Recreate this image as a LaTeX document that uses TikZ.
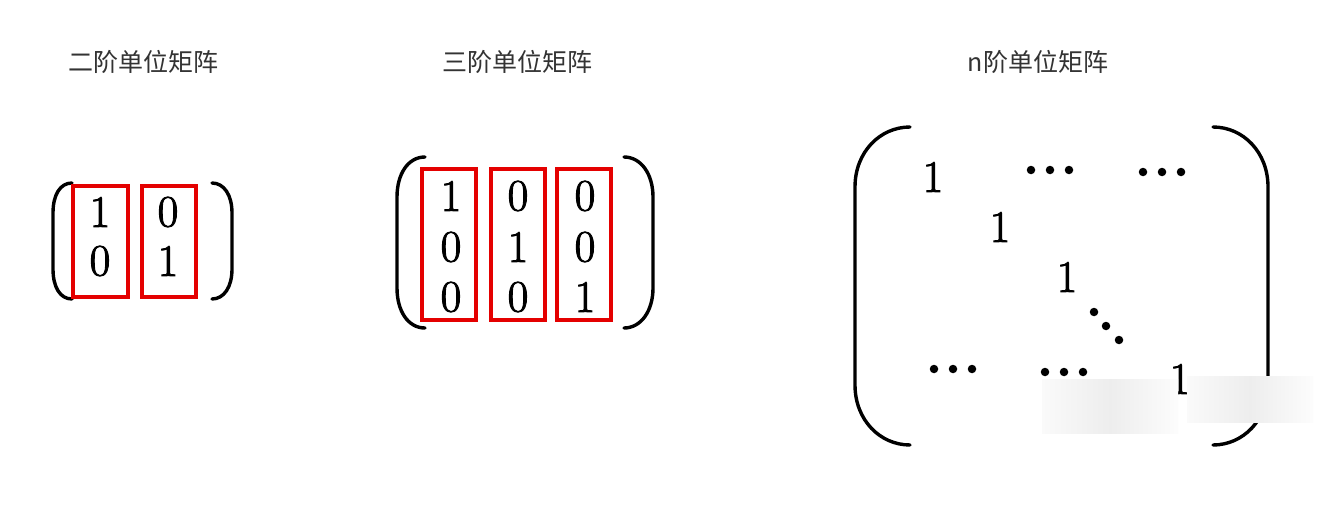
\documentclass[tikz,border=0pt]{standalone}
\usepackage{fontspec}
\newfontfamily\cjk{Noto Sans CJK SC}
\newfontfamily\numfont[FakeBold=2]{Latin Modern Roman}
\begin{document}
\begin{tikzpicture}[x=1pt,y=-1pt]
\useasboundingbox[fill=white] (0,0) rectangle (1340,508);
\tikzset{
 title/.style={font=\cjk\fontsize{25}{29}\selectfont, text=black!80, inner sep=0pt},
 num/.style={font=\numfont\fontsize{45}{50}\selectfont, inner sep=0pt},
 colbox/.style={draw={rgb,255:red,228;green,0;blue,0}, line width=3.4pt, inner sep=0pt},
 paren/.style={line width=3.4pt, line cap=round},
 dot/.style={circle, fill=black, inner sep=0pt, minimum size=8.5pt},
 smudge/.style={draw=none, left color=black!2, right color=black!1, middle color=black!7}
}
% titles
\node[title] (t2) at (143,62) {二阶单位矩阵};
\node[title] (t3) at (517,62) {三阶单位矩阵};
\node[title] (tn) at (1038,62) {n阶单位矩阵};

% ---- 2x2 ----
\draw[paren] (72,183) .. controls (60,183) and (53,195) .. (53,213) -- (53,269) .. controls (53,287) and (60,299) .. (72,299);
\draw[paren] (212,183) .. controls (224,183) and (232,195) .. (232,213) -- (232,269) .. controls (232,287) and (224,299) .. (212,299);
\node[colbox, minimum width=55pt, minimum height=111pt] (b21) at (100.5,241.5) {};
\node[colbox, minimum width=54pt, minimum height=111pt] (b22) at (169,241.5) {};
\node[num] (a11) at (100,212) {1};
\node[num] (a12) at (168,212) {0};
\node[num] (a21) at (100,261) {0};
\node[num] (a22) at (168,261) {1};

% ---- 3x3 ----
\draw[paren] (425,157) .. controls (408,157) and (397,174) .. (397,197) -- (397,288) .. controls (397,311) and (408,328) .. (425,328);
\draw[paren] (624,157) .. controls (641,157) and (653,174) .. (653,197) -- (653,288) .. controls (653,311) and (641,328) .. (624,328);
\node[colbox, minimum width=54pt, minimum height=151pt] (b31) at (449,244.5) {};
\node[colbox, minimum width=54pt, minimum height=151pt] (b32) at (518,244.5) {};
\node[colbox, minimum width=54pt, minimum height=151pt] (b33) at (584,244.5) {};
\node[num] (c11) at (451,196) {1};
\node[num] (c12) at (518,196) {0};
\node[num] (c13) at (585,196) {0};
\node[num] (c21) at (451,247) {0};
\node[num] (c22) at (518,247) {1};
\node[num] (c23) at (585,247) {0};
\node[num] (c31) at (451,297) {0};
\node[num] (c32) at (518,297) {0};
\node[num] (c33) at (585,297) {1};

% ---- n x n ----
\draw[paren] (910,127) .. controls (880,127) and (855,152) .. (855,187) -- (855,385) .. controls (855,420) and (880,445) .. (910,445);
\draw[paren] (1213,127) .. controls (1243,127) and (1268,152) .. (1268,187) -- (1268,385) .. controls (1268,420) and (1243,445) .. (1213,445);
\node[num] (n1) at (933,177) {1};
\node[num] (n2) at (1000,227) {1};
\node[num] (n3) at (1067,277) {1};
\node[num] (n4) at (1180,379) {1};
\foreach \nm/\cx/\cy in {ca/1050/170, cb/1162/172, cc/953/369, cd/1064/372}{
  \node[dot] (\nm-1) at (\cx-19,\cy) {};
  \node[dot] (\nm-2) at (\cx,\cy) {};
  \node[dot] (\nm-3) at (\cx+19,\cy) {};
}
\node[dot] (dd-1) at (1094,312) {};
\node[dot] (dd-2) at (1106,326) {};
\node[dot] (dd-3) at (1119,340) {};

% blurred patches
\fill[smudge] (1042,379) rectangle (1178,433);
\fill[smudge] (1187,376) rectangle (1313,422);
\end{tikzpicture}
\end{document}
